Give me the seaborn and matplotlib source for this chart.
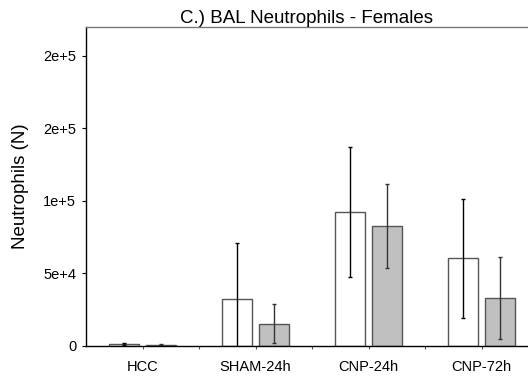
import pandas as pd
import seaborn as sns
import matplotlib.pyplot as plt
from matplotlib.ticker import FuncFormatter, FixedLocator
import numpy as np

# data
groups = ["HCC", "SHAM-24h", "CNP-24h", "CNP-72h"]
series = ["A", "B"]
mean_a = [1300, 32300, 92200, 60200]
mean_b = [800, 15200, 82800, 32800]
err_a = [900, 38500, 44600, 40800]
err_b = [500, 13500, 28900, 28300]

df = pd.DataFrame({
    "group": groups * 2,
    "series": [series[0]] * 4 + [series[1]] * 4,
    "value": mean_a + mean_b,
    "err": err_a + err_b,
})

sns.set_style("white")
plt.rcParams['font.family'] = ['Liberation Sans', 'DejaVu Sans']
plt.rcParams['text.color'] = 'black'
plt.rcParams['xtick.color'] = 'black'
plt.rcParams['ytick.color'] = 'black'
plt.rcParams['axes.labelcolor'] = 'black'

fig = plt.figure(figsize=(5.28, 3.79), dpi=100)
ax = fig.add_axes([86 / 528, 33.3 / 379, 452 / 528, 319 / 379])

sns.barplot(data=df, x="group", y="value", hue="series", order=groups,
            hue_order=series, palette=["white", "#c0c0c0"], width=0.655,
            gap=0.2, errorbar=None, edgecolor="#555555", linewidth=1.0,
            legend=False, ax=ax)

# error bars on top of the bars
for bar, (_, row) in zip(ax.patches, df.iterrows()):
    xc = bar.get_x() + bar.get_width() / 2
    col = "black" if row["series"] == "A" else "#333333"
    ax.errorbar(xc, row["value"], yerr=row["err"], fmt="none", ecolor=col,
                elinewidth=1.0, capsize=1.5, capthick=1.0, clip_on=True)

def sci(v, pos):
    if v == 0:
        return "0"
    m, e = ("%.0e" % v).split("e")
    return "%se+%d" % (m, int(e))

ax.set_ylim(0, 220000)
ax.set_xlim(-0.5, 3.5)
ax.set_yticks([0, 50000, 100000, 150000, 200000])
ax.yaxis.set_major_formatter(FuncFormatter(sci))
ax.xaxis.set_minor_locator(FixedLocator([0.5, 1.5, 2.5]))

ax.set_title("C.) BAL Neutrophils - Females", fontsize=13.5, pad=0, x=0.487)
ax.set_ylabel("Neutrophils (N)", fontsize=13.5, labelpad=10)
ax.set_xlabel("")

ax.tick_params(axis="y", which="major", left=True, length=3, width=0.8,
               labelsize=10.5, pad=4)
ax.tick_params(axis="x", which="both", bottom=True, length=2, width=0.8,
               labelsize=10.5, pad=8, color="#555555")

for side in ["left", "bottom"]:
    ax.spines[side].set_color("black")
    ax.spines[side].set_linewidth(1.0)
ax.spines["top"].set_color("#777777")
ax.spines["top"].set_linewidth(1.0)
ax.spines["right"].set_visible(False)

fig.savefig("out.png", dpi=100)
